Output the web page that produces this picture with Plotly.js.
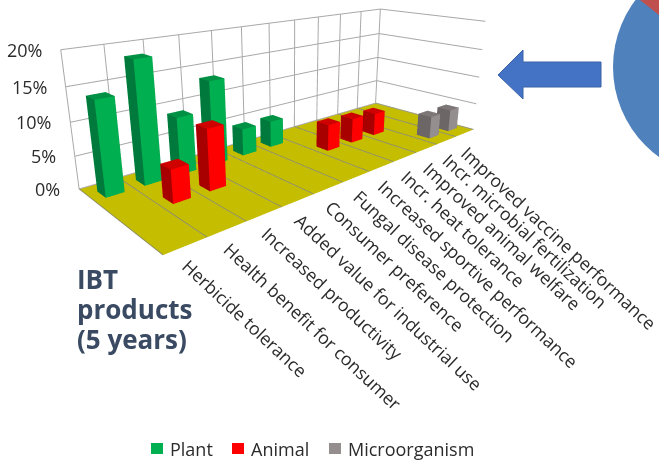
<!DOCTYPE html>
<html>
<head>
<meta charset="utf-8">
<script src="https://cdn.plot.ly/plotly-3.0.1.min.js"></script>
<style>
  html, body { margin: 0; padding: 0; background: #fff; overflow: hidden; width: 659px; height: 460px; }
  #chart { position: absolute; left: 0; top: -106px; width: 659px; height: 566px; }
</style>
</head>
<body>
<div id="chart"></div>
<script>
// Share of IBT products expected within five years, by trait (percent)
const categories = [
  "Herbicide tolerance", "Health benefit for consumer", "Increased productivity",
  "Added value for industrial use", "Consumer preference", "Fungal disease protection",
  "Increased sportive performance", "Incr. heat tolerance", "Improved animal welfare",
  "Incr. microbial fertilization", "Improved vaccine performance"
];
const plantValues = [14, 18.5, 9, 13.5, 4.5, 4.5, null, null, null, null, null];
const animalValues = [null, 5, 9.3, null, null, null, 4.5, 4.3, 4, null, null];
const microValues = [null, null, null, null, null, null, null, null, null, 4, 4];
const seriesNames = ["Plant", "Animal", "Microorganism"];
const zTicks = [0, 5, 10, 15, 20];
const titleLines = ["IBT", "products", "(5 years)"];

// Row of each series along the depth axis (0 = front) and its three face shades
const seriesRows = [2.5, 1.5, 0.5];
const faceShades = [
  { side: "#007a3c", front: "#00b050", top: "#009144" },
  { side: "#a80000", front: "#ff0000", top: "#cf0000" },
  { side: "#6c6666", front: "#958e8e", top: "#7d7777" }
];
const halfWidth = 0.235, halfDepth = 0.175;

function barMesh(values, row, shade, name) {
  const m = { type: "mesh3d", name, x: [], y: [], z: [], i: [], j: [], k: [], facecolor: [],
    flatshading: true, hoverinfo: "skip", showscale: false,
    lighting: { ambient: 1, diffuse: 0, specular: 0, roughness: 1, fresnel: 0 } };
  values.forEach((v, c) => {
    if (v === null) return;
    const b = m.x.length, cx = c + 0.5;
    [[-1,-1,0],[1,-1,0],[1,1,0],[-1,1,0],[-1,-1,1],[1,-1,1],[1,1,1],[-1,1,1]].forEach(p => {
      m.x.push(cx + p[0] * halfWidth);
      m.y.push(row + p[1] * halfDepth);
      m.z.push(p[2] * v);
    });
    const quads = [[0,1,5,4,shade.front],[0,3,7,4,shade.side],[4,5,6,7,shade.top],
                   [1,2,6,5,shade.side],[3,2,6,7,shade.front]];
    quads.forEach(q => {
      m.i.push(b+q[0], b+q[0]); m.j.push(b+q[1], b+q[2]); m.k.push(b+q[2], b+q[3]);
      m.facecolor.push(q[4], q[4]);
    });
  });
  return m;
}

const traces = [
  barMesh(plantValues, seriesRows[0], faceShades[0], seriesNames[0]),
  barMesh(animalValues, seriesRows[1], faceShades[1], seriesNames[1]),
  barMesh(microValues, seriesRows[2], faceShades[2], seriesNames[2])
];

// Darker category separators on the floor
const floorX = [], floorY = [], floorZ = [];
for (let c = 0; c <= categories.length; c++) {
  floorX.push(c, c, null); floorY.push(0, 3, null); floorZ.push(0.02, 0.02, null);
}
traces.push({ type: "scatter3d", mode: "lines", x: floorX, y: floorY, z: floorZ,
  line: { color: "#8f8f55", width: 2 }, hoverinfo: "skip", showlegend: false });

const W = 659, H = 566, TOP = 106;
const px = x => x / W;
const py = y => 1 - (y + TOP) / H;

const hiddenAxis = { showticklabels: false, ticks: "", zeroline: false, showspikes: false,
  showline: false, showbackground: false, title: { text: "" } };

const textFont = "Open Sans, Noto Sans, sans-serif";
const inkColor = "#2b2b2b";
const sceneAnnotations = categories.map((c, i) => ({
  x: i + 0.5, y: 0, z: 0, text: c, textangle: 43, showarrow: false,
  xanchor: "left", yanchor: "top", xshift: -11, yshift: -5,
  font: { family: textFont, size: 17.8, color: inkColor }
})).concat(zTicks.map(t => ({
  x: 0, y: 3, z: t, text: t + "%", showarrow: false,
  xanchor: "right", yanchor: "middle", xshift: -17, yshift: 0,
  font: { family: textFont, size: 18, color: inkColor }
})));

// Legend keys and texts
const legendX = [151, 232, 329];
const legendColors = [faceShades[0].front, faceShades[1].front, "#958e8e"];
const shapes = legendX.map((x, i) => ({
  type: "rect", xref: "paper", yref: "paper", x0: px(x), x1: px(x + 12), y0: py(443), y1: py(454),
  fillcolor: legendColors[i], line: { width: 0 }
}));
const annotations = legendX.map((x, i) => ({
  xref: "paper", yref: "paper", x: px(x + 17), y: py(448.5), text: seriesNames[i], showarrow: false,
  xanchor: "left", yanchor: "middle", font: { family: textFont, size: 18, color: inkColor }
}));
titleLines.forEach((line, i) => annotations.push({
  xref: "paper", yref: "paper", x: px(75), y: py(279 + i * 30), text: line,
  showarrow: false, xanchor: "left", yanchor: "middle",
  font: { family: textFont, size: 26, color: "#3a4a63", weight: 700 }
}));

// Pie fragment at the right edge and the arrow pointing from it to the chart
shapes.push({ type: "circle", xref: "paper", yref: "paper",
  x0: px(613), x1: px(835), y0: py(-44), y1: py(178), fillcolor: "#4f81bd", line: { width: 0 } });
const pt = (x, y) => px(x) + " " + py(y);
shapes.push({ type: "path", xref: "paper", yref: "paper",
  path: `M ${pt(640, 0)} L ${pt(659, 15)} L ${pt(659, -5)} L ${pt(640, -5)} Z`,
  fillcolor: "#c0504d", line: { width: 0 } });
shapes.push({ type: "path", xref: "paper", yref: "paper",
  path: `M ${pt(498, 75)} L ${pt(523, 50)} L ${pt(523, 62)} L ${pt(601, 62)} L ${pt(601, 87)} L ${pt(523, 87)} L ${pt(523, 99)} Z`,
  fillcolor: "#4472c4", line: { color: "#3a62a8", width: 1 } });

const layout = {
  width: W, height: H, margin: { l: 0, r: 0, t: 0, b: 0 }, paper_bgcolor: "#fff",
  showlegend: false, shapes, annotations,
  scene: {
    domain: { x: [0, 580 / W], y: [1 - 465 / H, 1] },
    aspectmode: "manual", aspectratio: { x: 1.92, y: 0.693, z: 0.59 },
    camera: {
      projection: { type: "perspective" },
      eye: { x: -1.735, y: -1.843, z: 0.709 },
      center: { x: -0.076, y: 0.0065, z: -0.132 },
      up: { x: 0, y: 0, z: 1 }
    },
    xaxis: Object.assign({}, hiddenAxis, { range: [0, categories.length], tickvals: categories.map((_, i) => i).concat(categories.length),
      showgrid: true, gridcolor: "#a8a8a8", gridwidth: 2 }),
    yaxis: Object.assign({}, hiddenAxis, { range: [0, 3], showgrid: false }),
    zaxis: { range: [0, 20], tickvals: zTicks, showticklabels: false, ticks: "", showgrid: true, gridcolor: "#a8a8a8", gridwidth: 2,
      zeroline: false, showspikes: false, showline: false, showbackground: true, backgroundcolor: "#c5be00",
      title: { text: "" } },
    annotations: sceneAnnotations
  }
};

Plotly.newPlot("chart", traces, layout, { displayModeBar: false });
</script>
</body>
</html>
